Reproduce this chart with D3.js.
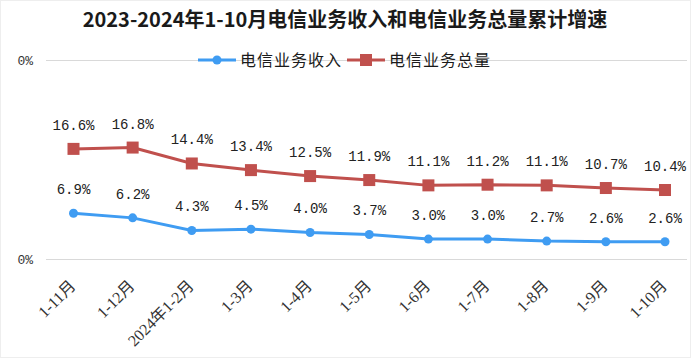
<!DOCTYPE html>
<html><head><meta charset="utf-8">
<script src="https://cdn.jsdelivr.net/npm/d3@7"></script>
<style>body{margin:0;background:#fff}svg{display:block}</style>
</head><body>
<svg id="c" width="691" height="358"></svg>
<script>
const categories = ["1-11月","1-12月","2024年1-2月","1-3月","1-4月","1-5月","1-6月","1-7月","1-8月","1-9月","1-10月"];
const revenue = [6.9,6.2,4.3,4.5,4.0,3.7,3.0,3.0,2.7,2.6,2.6];
const volume = [16.6,16.8,14.4,13.4,12.5,11.9,11.1,11.2,11.1,10.7,10.4];
const seriesNames = ["电信业务收入","电信业务总量"];
const yTicks = [0,30];
const title = "2023-2024年1-10月电信业务收入和电信业务总量累计增速";

const svg = d3.select("#c");
const blue = "#3f9cf2", red = "#c0504d";
const x = d3.scalePoint().domain(categories).range([73.5,665]);
const y = d3.scaleLinear().domain([0,30]).range([259,60]);

svg.append("rect").attr("x",0.5).attr("y",0.5).attr("width",690).attr("height",357).attr("fill","none").attr("stroke","#eeeeee");

svg.append("text").attr("x",345).attr("y",27).attr("text-anchor","middle")
  .attr("font-family","Noto Sans CJK SC").attr("font-weight","bold").attr("font-size",20)
  .attr("fill","#1a1a1a").text(title);

// grid + y labels
const yAxis = d3.axisLeft(y).tickValues(yTicks).tickSize(-(687-46)).tickFormat(() => "0%");
const ga = svg.append("g").attr("transform","translate(46,0)").call(yAxis);
ga.select(".domain").remove();
ga.selectAll(".tick line").attr("stroke","#d9d9d9").attr("stroke-width",1.2);
ga.selectAll(".tick text").attr("x",-13).attr("font-family","Liberation Mono").attr("font-size",13).attr("fill","#333");

// x labels
const xAxis = d3.axisBottom(x).tickSize(0).tickPadding(0);
const gx = svg.append("g").call(xAxis);
gx.select(".domain").remove();
gx.selectAll(".tick").attr("transform", d => `translate(${x(d)-1},283)`);
gx.selectAll(".tick text").attr("font-family","Liberation Serif, Noto Sans CJK SC").attr("font-size",16).attr("fill","#333")
  .attr("text-anchor","end").attr("x",0).attr("y",0).attr("dy","0.35em").attr("transform","rotate(-45)");

function drawSeries(data, color, shape){
  const line = d3.line().x((d,i)=>x(categories[i])).y(d=>y(d));
  svg.append("path").datum(data).attr("d",line).attr("fill","none").attr("stroke",color).attr("stroke-width",3);
  const g = svg.append("g");
  if(shape==="circle"){
    g.selectAll("circle").data(data).join("circle").attr("cx",(d,i)=>x(categories[i])).attr("cy",d=>y(d)).attr("r",4.5).attr("fill",color);
  } else {
    g.selectAll("rect").data(data).join("rect").attr("x",(d,i)=>x(categories[i])-6).attr("y",d=>y(d)-6).attr("width",12).attr("height",12).attr("fill",color);
  }
  svg.append("g").selectAll("text").data(data).join("text")
    .attr("x",(d,i)=>x(categories[i])).attr("y",d=>y(d)-19).attr("text-anchor","middle")
    .attr("font-family","Liberation Mono").attr("font-size",14).attr("fill","#222")
    .text(d=>d.toFixed(1)+"%");
}
drawSeries(volume, red, "square");
drawSeries(revenue, blue, "circle");

// legend
const lg = svg.append("g").attr("font-family","Noto Sans CJK SC").attr("font-size",16).attr("letter-spacing",1).attr("fill","#1a1a1a");
const items = [{n:seriesNames[0],c:blue,s:"circle",x:198},{n:seriesNames[1],c:red,s:"square",x:347}];
items.forEach(it=>{
  lg.append("line").attr("x1",it.x).attr("x2",it.x+38).attr("y1",60).attr("y2",60).attr("stroke",it.c).attr("stroke-width",3);
  if(it.s==="circle") lg.append("circle").attr("cx",it.x+19).attr("cy",60).attr("r",4.5).attr("fill",it.c);
  else lg.append("rect").attr("x",it.x+13).attr("y",54).attr("width",12).attr("height",12).attr("fill",it.c);
  lg.append("text").attr("x",it.x+42).attr("y",66).text(it.n);
});
</script>
</body></html>
